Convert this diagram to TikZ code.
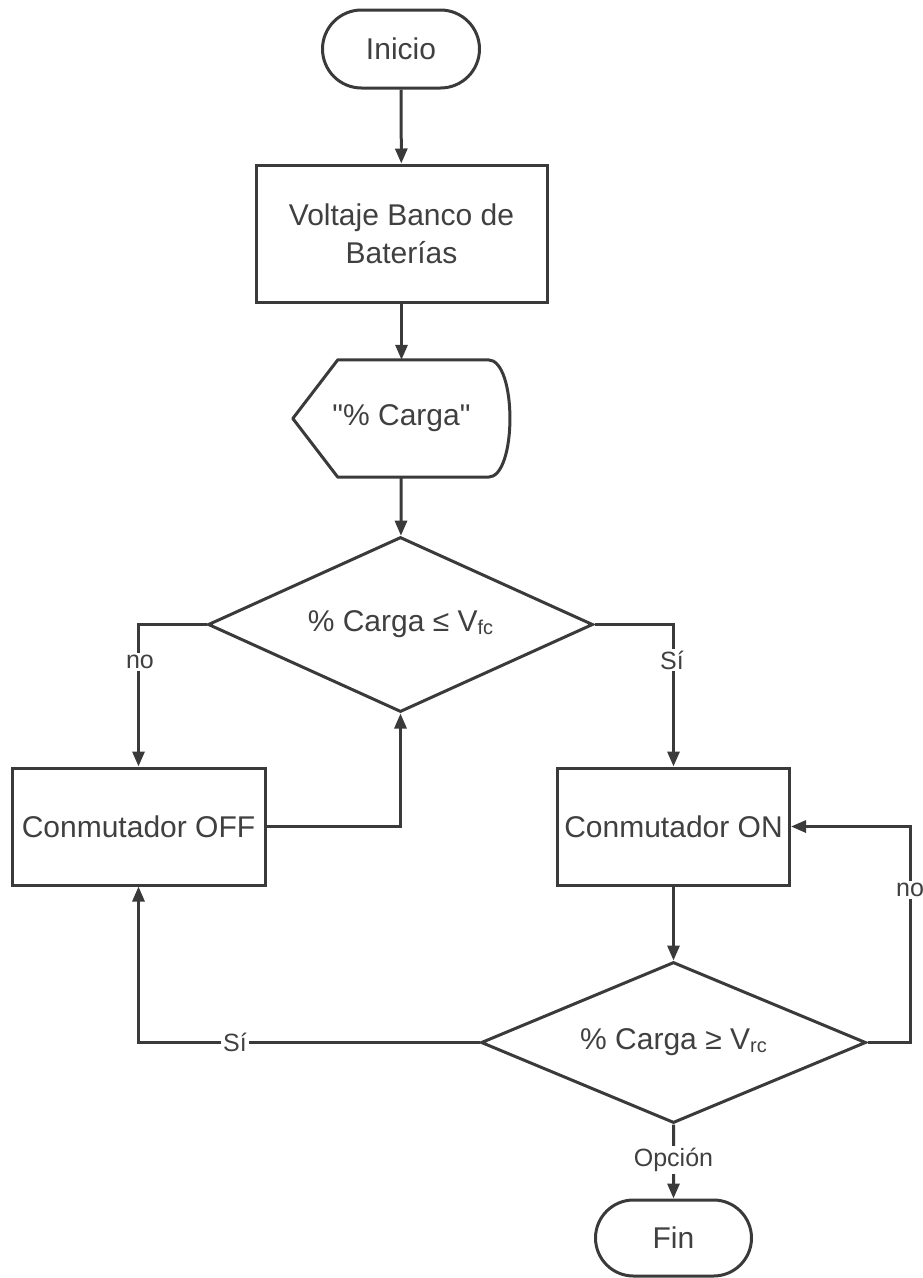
\documentclass[tikz,border=0pt]{standalone}
\usepackage{fontspec}
\setmainfont{Liberation Sans}
% same family without the TeX quote mapping, for straight double quotes
\newfontfamily\plainquote{Liberation Sans}
\usetikzlibrary{shapes.geometric,shapes.misc,arrows.meta}
\definecolor{ink}{HTML}{3A3A3A}
\definecolor{txt}{HTML}{404040}
\newcommand{\sub}[1]{\raisebox{-3pt}{\fontsize{20}{20}\selectfont #1}}
\newcommand{\dq}{{\plainquote"}}
\begin{document}
\begin{tikzpicture}[x=1pt,y=-1pt,
  every node/.style={text=txt, font=\fontsize{30}{38}\selectfont},
  box/.style={draw=ink, line width=3pt, fill=white, rectangle, inner sep=0pt, align=center},
  term/.style={draw=ink, line width=3pt, fill=white, rounded rectangle, inner sep=0pt,
    minimum width=157pt, minimum height=78pt},
  decision/.style={draw=ink, line width=3pt, fill=white, diamond, aspect=2.2, inner sep=0pt,
    minimum width=385pt},
  arr/.style={draw=ink, line width=3pt, -{Triangle[length=15pt,width=12pt]}},
  wire/.style={draw=ink, line width=3pt},
  lbl/.style={fill=white, inner sep=2pt, font=\fontsize{25}{30}\selectfont},
]
\useasboundingbox (0,0) rectangle (923,1278);

% shapes
\node[term] (inicio) at (401,49) {Inicio};
\node[box, minimum width=291pt, minimum height=137pt] (volt) at (401.5,233.5)
  {Voltaje Banco de\\Baterías};
\node[inner sep=0pt, minimum width=217pt, minimum height=117pt] (disp) at (401.5,418.5)
  {\dq\% Carga\dq};
\draw[ink, line width=3pt, line join=round]
  (disp.west) -- ([xshift=45pt]disp.north west) -- ([xshift=-22pt]disp.north east)
  .. controls ([xshift=7pt]disp.north east) and ([xshift=7pt]disp.south east)
  .. ([xshift=-22pt]disp.south east) -- ([xshift=45pt]disp.south west) -- cycle;
\node[decision, minimum height=175pt] (d1) at (400.5,624.5) {\% Carga ≤ V\sub{fc}};
\node[box, minimum width=253pt, minimum height=117pt] (off) at (138.5,826.5) {Conmutador OFF};
\node[box, minimum width=232pt, minimum height=117pt] (on) at (673.5,826.5) {Conmutador ON};
\node[decision, minimum height=161pt] (d2) at (673.5,1042.5) {\% Carga ≥ V\sub{rc}};
\node[term, minimum width=156pt, minimum height=76pt] (fin) at (673.5,1238) {Fin};

% connectors
\coordinate (rturn) at (910,1042.5);
\draw[arr] (inicio) -- (volt);
\draw[arr] (volt) -- (disp);
\draw[arr] (disp) -- (d1);
\draw[arr] (d1.west) -| (off.north);
\draw[arr] (off.east) -| (d1.south);
\draw[arr] (d1.east) -| (on.north);
\draw[arr] (on) -- (d2);
\draw[arr] (d2.east) -- (rturn) |- (on.east);
\draw[arr] (d2.west) -| (off.south);
\draw[arr] (d2) -- (fin);

% branch labels
\node[lbl] (l1) at (140,662) {no};
\node[lbl] (l2) at (672,660) {Sí};
\node[lbl] (l3) at (910,890) {no};
\node[lbl] (l4) at (235,1042.5) {Sí};
\node[lbl] (l5) at (673.5,1160) {Opción};
\end{tikzpicture}
\end{document}
